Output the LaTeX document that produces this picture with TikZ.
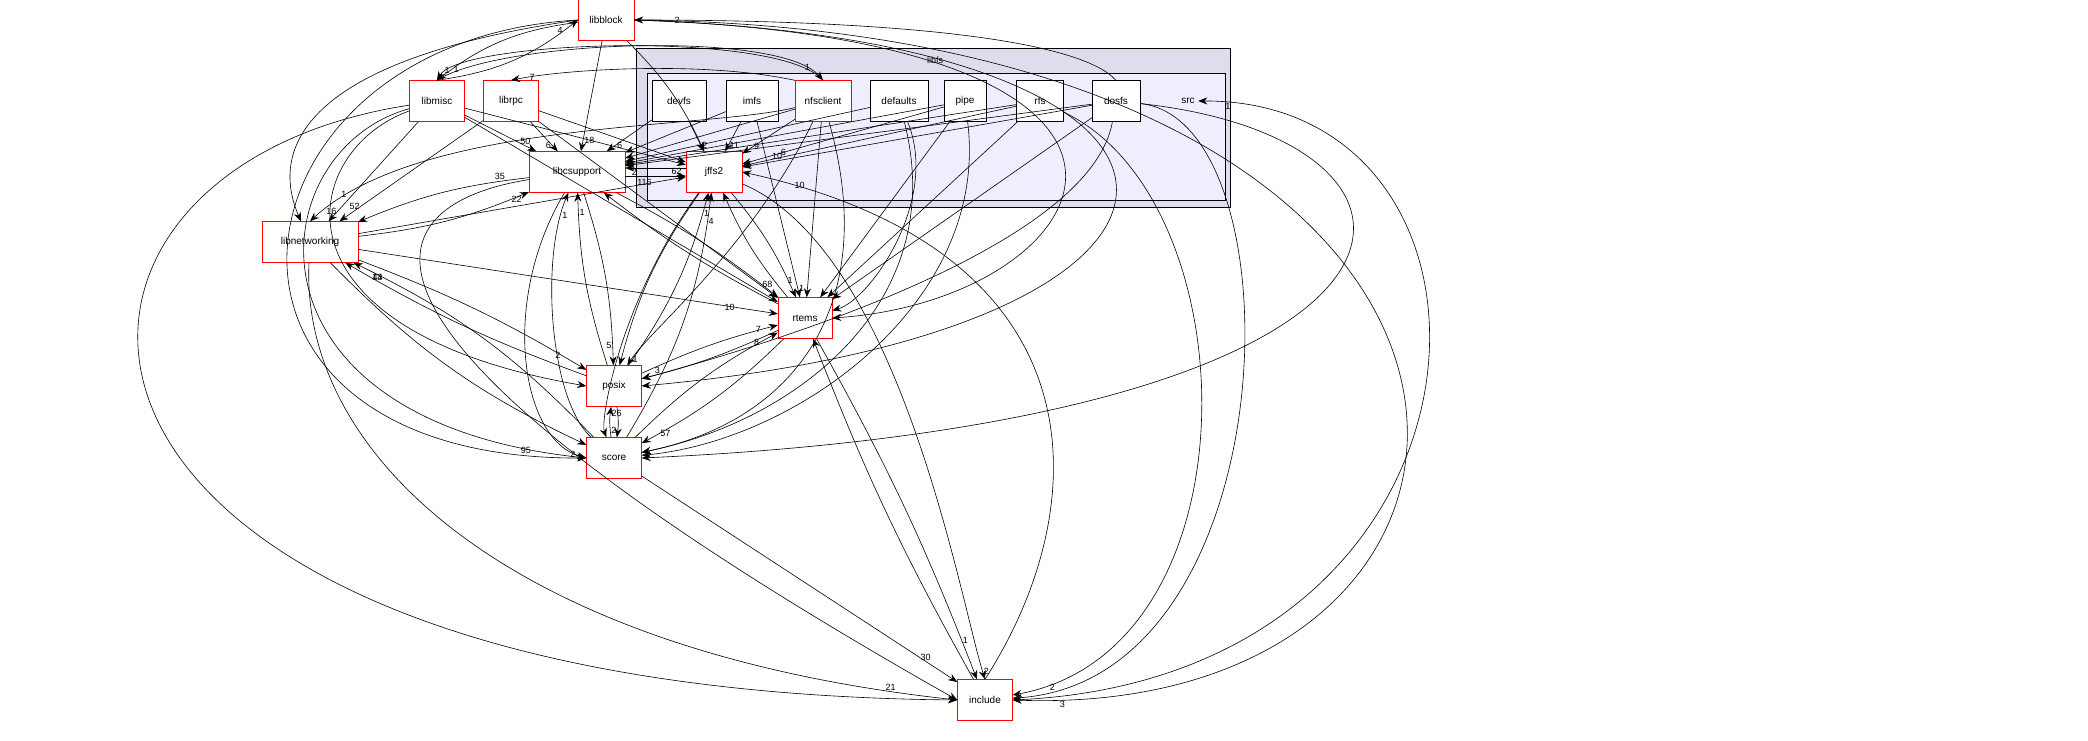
\documentclass[tikz,border=0pt]{standalone}
\usepackage{fontspec}
\setmainfont{Liberation Sans}
\usetikzlibrary{arrows.meta}
\begin{document}
\begin{tikzpicture}[x=1pt,y=-1pt,
 n/.style={draw=red,fill=white,minimum height=41pt,inner sep=3pt,font=\fontsize{10}{12}\selectfont},
 b/.style={n,draw=black},
 e/.style={-{Stealth[length=9pt,width=7pt]},line width=0.6pt},
 l/.style={font=\fontsize{9}{10}\selectfont,inner sep=1pt}]
\useasboundingbox (0,0) rectangle (2088,740);
% clusters
\draw[line width=0.6pt,fill={rgb,255:red,221;green,221;blue,238}] (636,48) rectangle (1230,207);
\node[font=\fontsize{9}{11}\selectfont] at (935,60) {libfs};
\draw[line width=0.6pt,fill={rgb,255:red,238;green,238;blue,255}] (647,73) rectangle (1225,200);
\node[font=\fontsize{10}{12}\selectfont] (src) at (1188,101) {src};
% nodes
\node[n,minimum width=56pt] (libblock) at (606,20) {libblock};
\node[n,minimum width=55pt] (libmisc) at (437,101) {libmisc};
\node[n,minimum width=55pt] (librpc) at (511,101) {librpc};
\node[b,minimum width=54pt] (devfs) at (679,101) {devfs};
\node[b,minimum width=52pt] (imfs) at (752,101) {imfs};
\node[n,minimum width=56pt] (nfsclient) at (823,101) {nfsclient};
\node[b,minimum width=58pt] (defaults) at (899,101) {defaults};
\node[b,minimum width=42pt] (pipe) at (965,101) {pipe};
\node[b,minimum width=47pt] (rfs) at (1040,101) {rfs};
\node[b,minimum width=48pt] (dosfs) at (1116,101) {dosfs};
\node[n,minimum width=96pt] (libcsupport) at (577,172) {libcsupport};
\node[n,minimum width=56pt] (jffs2) at (714,172) {jffs2};
\node[n,minimum width=96pt] (libnetworking) at (310,242) {libnetworking};
\node[n,minimum width=54pt] (rtems) at (805,318) {rtems};
\node[n,minimum width=55pt] (posix) at (614,386) {posix};
\node[n,minimum width=55pt] (score) at (614,458) {score};
\node[n,minimum width=55pt] (include) at (985,700) {include};
% libblock edges
\draw[e] (libblock) -- node[l,pos=0.9,right]{18} (libcsupport);
\draw[e] (libblock) to[bend left=10] (jffs2);
\draw[e] (libblock) to[bend right=15] node[l,pos=0.9,left]{1} (libmisc.north);
\draw[e] (libmisc.north) to[bend right=15] node[l,pos=0.9,left]{4} (libblock.west);
\draw[e] (libblock.west) .. controls (300,60) and (270,150) .. (libnetworking);
\draw[e] (libblock.west) .. controls (220,40) and (160,460) .. node[l,pos=0.95,above]{95} (score.west);
\draw[e] (libblock.east) .. controls (1280,40) and (1270,330) .. (posix.east);
\draw[e] (libblock.east) .. controls (1600,30) and (1580,720) .. node[l,pos=0.97,below]{3} (include.east);
\draw[e] (libblock.east) .. controls (1250,40) and (1100,300) .. (rtems.east);
\draw[e] (dosfs.north) .. controls (1080,40) and (900,20) .. node[l,pos=0.95,right]{2} (libblock.east);
\draw[e] (libmisc.north) .. controls (500,40) and (780,30) .. node[l,pos=0.9,right]{1} (nfsclient.north);
\draw[e] (nfsclient.north) .. controls (780,30) and (460,40) .. node[l,pos=0.9,right]{1} (libmisc.north);
% libmisc
\draw[e] (libmisc) -- node[l,pos=0.85,above]{50} (libcsupport);
\draw[e] (libmisc) -- (jffs2);
\draw[e] (libmisc) -- node[l,pos=0.9,left]{16} (libnetworking);
\draw[e] (libmisc) .. controls (300,150) and (260,330) .. (posix.west);
\draw[e] (libmisc) .. controls (260,150) and (230,420) .. (score.west);
\draw[e] (libmisc) .. controls (-20,170) and (-10,690) .. (include.west);
\draw[e] (libmisc) -- (rtems);
% librpc
\draw[e] (librpc) -- node[l,pos=0.8,left]{6} (libcsupport);
\draw[e] (librpc) -- (jffs2);
\draw[e] (librpc) -- node[l,pos=0.85,left]{52} (libnetworking);
\draw[e] (librpc) -- (rtems);
% fs members
\draw[e] (devfs) -- node[l,pos=0.8,right]{6} (libcsupport);
\draw[e] (devfs) -- node[l,pos=0.8,right]{2} (jffs2);
\draw[e] (imfs) -- (libcsupport);
\draw[e] (imfs) -- node[l,pos=0.8,right]{11} (jffs2);
\draw[e] (imfs) -- node[l,pos=0.95,right]{1} (rtems);
\draw[e] (nfsclient) -- (libcsupport);
\draw[e] (nfsclient) -- node[l,pos=0.8,right]{9} (jffs2);
\draw[e] (nfsclient) .. controls (700,130) and (420,120) .. node[l,pos=0.9,left]{1} (libnetworking.north);
\draw[e] (nfsclient) .. controls (750,250) and (650,330) .. node[l,pos=0.95,right]{1} (posix);
\draw[e] (nfsclient) -- (rtems);
\draw[e] (nfsclient) .. controls (880,300) and (800,420) .. (score);
\draw[e] (nfsclient.north west) .. controls (700,60) and (560,70) .. node[l,pos=0.9,right]{7} (librpc.north);
\draw[e] (defaults) -- (libcsupport);
\draw[e] (defaults) .. controls (940,200) and (870,300) .. (rtems);
\draw[e] (defaults) .. controls (950,300) and (800,420) .. (score);
\draw[e] (pipe) -- (jffs2);
\draw[e] (pipe) -- (libcsupport);
\draw[e] (pipe) -- (rtems);
\draw[e] (pipe) .. controls (990,300) and (800,440) .. (score);
\draw[e] (rfs) -- node[l,pos=0.85,above]{6} (jffs2);
\draw[e] (rfs) -- (libcsupport);
\draw[e] (rfs) -- (rtems);
\draw[e] (rfs) .. controls (1250,200) and (1260,650) .. (include);
\draw[e] (dosfs) -- node[l,pos=0.9,above]{10} (jffs2);
\draw[e] (dosfs) -- (libcsupport);
\draw[e] (dosfs) -- (rtems);
\draw[e] (dosfs) .. controls (1090,250) and (750,350) .. (posix);
\draw[e] (dosfs) .. controls (1300,120) and (1290,680) .. node[l,pos=0.95,above]{2} (include);
\draw[e] (dosfs) .. controls (1480,140) and (1480,420) .. (score.east);
\draw[e] (include.east) .. controls (1520,680) and (1540,100) .. node[l,pos=0.97,below]{1} (src);
% libcsupport / jffs2
\draw[e] ([yshift=-4pt]libcsupport.east) -- node[l,pos=0.85,above]{62} ([yshift=-4pt]jffs2.west);
\draw[e] ([yshift=4pt]jffs2.west) -- node[l,pos=0.85,below]{2} ([yshift=4pt]libcsupport.east);
\draw[e] (libcsupport) to[bend right=8] node[l,pos=0.15,above]{35} (libnetworking);
\draw[e] (libnetworking) to[bend right=8] node[l,pos=0.9,right]{22} (libcsupport);
\draw[e] (libcsupport) to[bend left=8] node[l,pos=0.9,left]{5} (posix);
\draw[e] (posix) to[bend left=8] node[l,pos=0.9,right]{1} (libcsupport);
\draw[e] (libcsupport) .. controls (500,300) and (520,440) .. node[l,pos=0.95,left]{2} (score.west);
\draw[e] (score) .. controls (550,400) and (540,260) .. node[l,pos=0.9,right]{1} (libcsupport);
\draw[e] (libcsupport) to[bend left=5] node[l,pos=0.9,right]{68} (rtems);
\draw[e] (rtems) to[bend left=5] (libcsupport);
\draw[e] (libcsupport) .. controls (400,200) and (250,300) .. (include.west);
\draw[e] (jffs2) to[bend left=8] node[l,pos=0.9,above]{1} (rtems);
\draw[e] (rtems) to[bend left=8] (jffs2);
\draw[e] (jffs2) to[bend right=10] (posix);
\draw[e] (posix) to[bend right=10] node[l,pos=0.9,right]{1} (jffs2);
\draw[e] (score) to[bend right=12] node[l,pos=0.9,right]{4} (jffs2);
\draw[e] (jffs2) .. controls (620,300) and (600,420) .. (score);
\draw[e] (jffs2) .. controls (900,250) and (960,600) .. node[l,pos=0.97,right]{2} (include.north);
\draw[e] (include.north) .. controls (1100,500) and (1100,250) .. node[l,pos=0.95,right]{10} (jffs2.east);
\draw[e] (libnetworking) -- node[l,pos=0.9,left]{116} (jffs2);
% libnetworking
\draw[e] (libnetworking) -- node[l,pos=0.9,left]{10} (rtems);
\draw[e] (libnetworking) to[bend left=5] node[l,pos=0.9,left]{2} (posix);
\draw[e] (posix) to[bend left=5] node[l,pos=0.9,right]{44} (libnetworking);
\draw[e] (libnetworking) to[bend right=10] (score);
\draw[e] (score) to[bend right=10] node[l,pos=0.9,left]{13} (libnetworking);
\draw[e] (libnetworking) .. controls (300,450) and (500,650) .. node[l,pos=0.95,above]{21} (include.west);
% rtems / posix / score / include
\draw[e] (rtems) to[bend left=5] node[l,pos=0.9,above]{3} (posix);
\draw[e] (posix) to[bend left=5] node[l,pos=0.9,left]{7} (rtems);
\draw[e] (rtems) to[bend left=8] node[l,pos=0.9,right]{57} (score);
\draw[e] (score) to[bend left=8] node[l,pos=0.9,left]{8} (rtems);
\draw[e] (rtems) to[bend left=4] node[l,pos=0.9,right]{1} (include);
\draw[e] (include) to[bend left=4] (rtems);
\draw[e] (posix) to[bend left=8] node[l,pos=0.8,left]{2} (score);
\draw[e] (score) to[bend left=8] node[l,pos=0.8,right]{26} (posix);
\draw[e] (score) -- node[l,pos=0.9,above]{30} (include);
\end{tikzpicture}
\end{document}
